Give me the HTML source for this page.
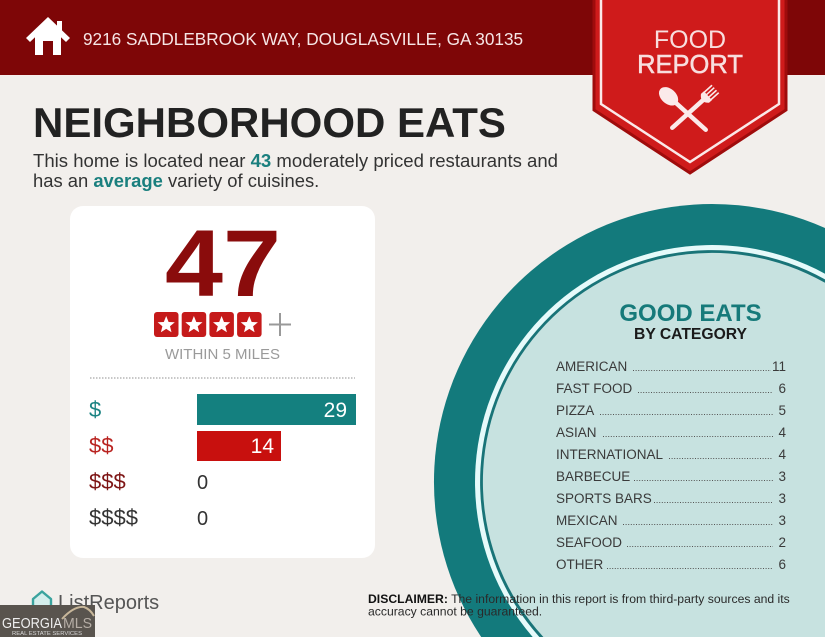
<!DOCTYPE html>
<html><head><meta charset="utf-8"><style>
html,body{margin:0;padding:0;background:#f2efec;width:825px;height:637px;overflow:hidden;}
svg{display:block;position:absolute;left:0;top:0;}
text{font-family:"Liberation Sans",sans-serif;}
</style></head><body>
<svg width="825" height="637" viewBox="0 0 825 637" xmlns="http://www.w3.org/2000/svg">
<rect width="825" height="637" fill="#f2efec"/>
<!-- header -->
<rect x="0" y="0" width="825" height="75" fill="#7e0607"/>
<rect x="0" y="75" width="825" height="1" fill="#f7eeec"/>
<!-- house icon -->
<path d="M48,17 L70,38 L66,42 L48,25 L30,42 L26,38 Z" fill="#fff"/>
<rect x="57" y="21" width="5" height="11" fill="#fff"/>
<path d="M35,36 L48,24 L61,36 L61,55 L53,55 L53,41 L43,41 L43,55 L35,55 Z" fill="#fff"/>
<text x="83" y="45" font-size="17.2" fill="#f6e6e6">9216 SADDLEBROOK WAY, DOUGLASVILLE, GA 30135</text>
<!-- ribbon -->
<path d="M594,0 L594,110 L690,173 L786,110 L786,0" fill="#cf1b1b" stroke="#9f0c0c" stroke-width="3"/>
<polyline points="601,0 601,104 690,162 779,104 779,0" fill="none" stroke="#fbe8e8" stroke-width="2.5"/>
<text x="690" y="48" font-size="25" fill="#f8dede" text-anchor="middle">FOOD</text>
<text x="690" y="73" font-size="25.5" fill="#f8dede" stroke="#f8dede" stroke-width="0.5" text-anchor="middle">REPORT</text>
<g transform="translate(676,103) rotate(-48)" fill="#fbeaea" stroke="#fbeaea">
  <ellipse cx="0" cy="-10" rx="7.5" ry="11" stroke="none"/>
  <line x1="0" y1="0" x2="0" y2="40" stroke-width="4.5" stroke-linecap="round"/>
</g>
<g transform="translate(702,101) rotate(48)" fill="#fbeaea" stroke="#fbeaea">
  <line x1="0" y1="-2" x2="0" y2="40" stroke-width="4.5" stroke-linecap="round"/>
  <path d="M-6,-8 L6,-8 L6,-4 Q0,3 -6,-4 Z" stroke="none"/>
  <line x1="-5" y1="-18" x2="-5" y2="-7" stroke-width="1.6"/>
  <line x1="-1.7" y1="-18" x2="-1.7" y2="-7" stroke-width="1.6"/>
  <line x1="1.7" y1="-18" x2="1.7" y2="-7" stroke-width="1.6"/>
  <line x1="5" y1="-18" x2="5" y2="-7" stroke-width="1.6"/>
</g>
<!-- title -->
<text x="33" y="137" font-size="42" font-weight="bold" fill="#222">NEIGHBORHOOD EATS</text>
<text x="33" y="167" font-size="18.4" fill="#333" textLength="525" lengthAdjust="spacingAndGlyphs">This home is located near <tspan font-weight="bold" fill="#1a7f7e">43</tspan> moderately priced restaurants and</text>
<text x="33" y="187" font-size="18.4" fill="#333">has an <tspan font-weight="bold" fill="#1a7f7e">average</tspan> variety of cuisines.</text>
<!-- card -->
<rect x="70" y="206" width="305" height="352" rx="13" fill="#ffffff"/>
<text x="223" y="296" font-size="95" font-weight="bold" fill="#8a0c0c" text-anchor="middle" textLength="116" lengthAdjust="spacingAndGlyphs">47</text>
<g fill="#c51a1a">
  <rect x="154" y="312" width="24.5" height="25" rx="3"/>
  <rect x="181.7" y="312" width="24.5" height="25" rx="3"/>
  <rect x="209.4" y="312" width="24.5" height="25" rx="3"/>
  <rect x="237.1" y="312" width="24.5" height="25" rx="3"/>
</g>
<g fill="#fff">
  <polygon transform="translate(166.2,325)" points="0,-9 2.4,-3 8.6,-2.8 3.8,1.2 5.3,7.3 0,3.9 -5.3,7.3 -3.8,1.2 -8.6,-2.8 -2.4,-3"/>
  <polygon transform="translate(193.9,325)" points="0,-9 2.4,-3 8.6,-2.8 3.8,1.2 5.3,7.3 0,3.9 -5.3,7.3 -3.8,1.2 -8.6,-2.8 -2.4,-3"/>
  <polygon transform="translate(221.6,325)" points="0,-9 2.4,-3 8.6,-2.8 3.8,1.2 5.3,7.3 0,3.9 -5.3,7.3 -3.8,1.2 -8.6,-2.8 -2.4,-3"/>
  <polygon transform="translate(249.3,325)" points="0,-9 2.4,-3 8.6,-2.8 3.8,1.2 5.3,7.3 0,3.9 -5.3,7.3 -3.8,1.2 -8.6,-2.8 -2.4,-3"/>
</g>
<line x1="269" y1="324.5" x2="291" y2="324.5" stroke="#999" stroke-width="2"/>
<line x1="280" y1="313" x2="280" y2="336" stroke="#999" stroke-width="2"/>
<text x="222.5" y="359" font-size="15" fill="#9a9a9a" text-anchor="middle">WITHIN 5 MILES</text>
<line x1="90" y1="378" x2="355" y2="378" stroke="#a8a8a8" stroke-width="1.2" stroke-dasharray="1.5 1.5"/>
<rect x="197" y="394" width="159" height="31" fill="#14807f"/>
<text x="347" y="417" font-size="21" fill="#fff" text-anchor="end">29</text>
<rect x="197" y="431" width="84" height="30" fill="#c8100e"/>
<text x="274" y="453" font-size="21" fill="#fff" text-anchor="end">14</text>
<text x="89" y="417" font-size="22" fill="#1a8382">$</text>
<text x="89" y="453" font-size="22" fill="#b92320">$$</text>
<text x="89" y="489" font-size="22" fill="#7d1414">$$$</text>
<text x="89" y="525" font-size="22" fill="#333">$$$$</text>
<text x="197" y="489" font-size="20" fill="#333">0</text>
<text x="197" y="525" font-size="20" fill="#333">0</text>
<!-- circle (clipped to frame geometrically) -->
<path d="M481.2,637 A278,278 0 0 1 825,228 L825,637 Z" fill="#137a7c"/>
<path d="M532.7,637 A237,237 0 0 1 825,273.7 L825,637 Z" fill="#e6fafa"/>
<path d="M539.4,637 A232,232 0 0 1 825,279.4 L825,637 Z" fill="#197478"/>
<path d="M543.4,637 A229,229 0 0 1 825,282.8 L825,637 Z" fill="#c7e2e0"/>
<text x="690.5" y="321" font-size="24" font-weight="bold" fill="#167a7a" text-anchor="middle">GOOD EATS</text>
<text x="690.5" y="339" font-size="15.7" font-weight="bold" fill="#1a1a1a" text-anchor="middle">BY CATEGORY</text>
<g font-size="13.5" fill="#3a3a3a">
  <text x="556" y="371">AMERICAN</text>
  <text x="556" y="393">FAST FOOD</text>
  <text x="556" y="415">PIZZA</text>
  <text x="556" y="437">ASIAN</text>
  <text x="556" y="459">INTERNATIONAL</text>
  <text x="556" y="481">BARBECUE</text>
  <text x="556" y="503">SPORTS BARS</text>
  <text x="556" y="525">MEXICAN</text>
  <text x="556" y="547">SEAFOOD</text>
  <text x="556" y="569">OTHER</text>
</g>
<g font-size="13.5" fill="#3a3a3a" text-anchor="end">
  <text x="786" y="371">11</text>
  <text x="786" y="393">6</text>
  <text x="786" y="415">5</text>
  <text x="786" y="437">4</text>
  <text x="786" y="459">4</text>
  <text x="786" y="481">3</text>
  <text x="786" y="503">3</text>
  <text x="786" y="525">3</text>
  <text x="786" y="547">2</text>
  <text x="786" y="569">6</text>
</g>
<g stroke="#555" stroke-width="1" stroke-dasharray="1 1.6">
  <line x1="633" y1="370.5" x2="771" y2="370.5"/>
  <line x1="638" y1="392.5" x2="773" y2="392.5"/>
  <line x1="600" y1="414.5" x2="773" y2="414.5"/>
  <line x1="603" y1="436.5" x2="773" y2="436.5"/>
  <line x1="669" y1="458.5" x2="773" y2="458.5"/>
  <line x1="634" y1="480.5" x2="773" y2="480.5"/>
  <line x1="654" y1="502.5" x2="773" y2="502.5"/>
  <line x1="623" y1="524.5" x2="773" y2="524.5"/>
  <line x1="627" y1="546.5" x2="773" y2="546.5"/>
  <line x1="607" y1="568.5" x2="773" y2="568.5"/>
</g>
<!-- disclaimer -->
<text x="368" y="603" font-size="12.2" fill="#2a2a2a"><tspan font-weight="bold" fill="#111">DISCLAIMER:</tspan> The information in this report is from third-party sources and its</text>
<text x="368" y="615.5" font-size="12.2" fill="#2a2a2a">accuracy cannot be guaranteed.</text>
<!-- ListReports -->
<path d="M33,599 L42,591.5 L51,599 L51,607 L33,607 Z" fill="#d4eeec" stroke="#3aa39e" stroke-width="2.4" stroke-linejoin="round"/>
<text x="58" y="609" font-size="20" fill="#555">ListReports</text>
<!-- GeorgiaMLS badge -->
<rect x="0" y="605" width="95" height="32" fill="#59544e"/>
<path d="M62,619 Q74,606 84,607 Q90,609 94,616" fill="none" stroke="#c8b79a" stroke-width="2"/>
<text x="2" y="628" font-size="15" fill="#efefef" textLength="60" lengthAdjust="spacingAndGlyphs">GEORGIA</text>
<text x="63" y="628" font-size="15" fill="#b6aea6" textLength="29" lengthAdjust="spacingAndGlyphs">MLS</text>
<text x="12" y="635" font-size="5" fill="#d8d8d8" textLength="70" lengthAdjust="spacingAndGlyphs">REAL ESTATE SERVICES</text>
</svg>
</body></html>
